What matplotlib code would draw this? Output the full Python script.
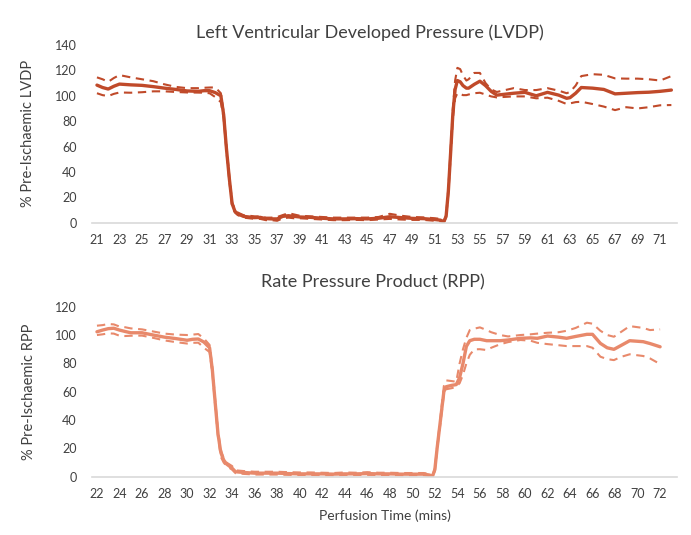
import matplotlib
matplotlib.use("Agg")
import matplotlib.pyplot as plt

plt.rcParams['font.family'] = ['Lato', 'DejaVu Sans']

# ---- LVDP (top) ----
t_lvdp = [21, 21.5, 22, 22.5, 23, 24, 25, 26, 27, 28, 29, 30, 30.5, 31, 31.5, 32,
          32.25, 32.5, 32.75, 33, 33.25, 33.5, 34, 34.5, 35, 35.5, 36, 36.5, 37, 37.5,
          38, 38.5, 39, 40, 41, 42, 43, 44, 45, 46, 47, 48, 49, 50, 51, 51.5, 51.8,
          52, 52.2, 52.4, 52.6, 52.8, 53, 53.25, 53.5, 53.8, 54, 54.5, 55, 55.5, 56,
          56.5, 57, 58, 59, 60, 61, 62, 62.7, 63, 63.5, 64, 65, 66, 67, 68, 69, 70, 71, 72]
lvdp_mean = [108.4, 106.5, 105.3, 107.5, 109.2, 108.6, 108.2, 107.2, 106, 105, 103.8, 103.5, 104, 104, 102.5, 100,
             85, 58, 35, 15, 9, 7, 5, 4.5, 4, 4.2, 3.2, 3, 3, 5,
             5.5, 5, 4.5, 4.2, 3.5, 3, 3, 3.2, 3, 3.5, 4.7, 4, 3.4, 3.2, 2.5, 2, 0.8,
             5, 25, 55, 86, 105, 112, 111, 108, 106, 106, 109, 111.5, 108, 103.5,
             100.5, 101, 102, 102.7, 100, 102.7, 100.5, 98, 98.5, 102, 106.5, 106, 105, 101.5, 102, 102.5, 102.8, 103.5, 104.5]
lvdp_upper = [114.5, 113, 111, 114, 116.3, 114.5, 113, 111.5, 109, 107, 106, 106, 106.3, 106.5, 106.6, 102,
              87, 60, 37, 16, 10.5, 8, 6, 5.5, 5, 5, 4, 4, 4.5, 6,
              7.5, 6.5, 5.5, 5, 4.5, 4, 4, 4, 4, 4.5, 7, 5.5, 4.5, 4.2, 3.5, 3, 1.2,
              6, 27, 58, 90, 112, 122, 121, 116, 112, 113, 118, 118, 110, 105,
              103, 104, 106, 104.5, 104.5, 106, 104, 102, 103, 108, 115.5, 117, 116.5, 113.7, 113.5, 113.5, 113, 112, 115.5]
lvdp_lower = [102, 100.5, 99.8, 101.5, 102.6, 102.4, 102.8, 103.5, 103.5, 103, 102.6, 102.5, 102.4, 102, 99, 95,
              82, 56, 33, 13, 8, 6, 4, 3.5, 3, 3, 2, 2, 1.5, 3.5,
              4, 3.5, 3.5, 3, 2.5, 2, 2, 2.2, 2, 2.5, 3, 2.5, 2.2, 2.2, 1.5, 1, 0.4,
              4, 23, 52, 82, 98, 102, 101.5, 100.5, 100.5, 101, 102, 102.4, 101, 99.5,
              98.7, 99, 99.5, 99.5, 98, 98.5, 96, 93.5, 94, 95, 95.3, 93.5, 91.5, 88.7, 91, 90, 91, 92.5, 92.7]

# ---- RPP (bottom) ----
t_rpp = [22, 22.5, 23, 23.5, 24, 24.5, 25, 26, 27, 28, 29, 30, 30.5, 31, 31.5, 32,
         32.25, 32.5, 32.75, 33, 33.25, 33.5, 34, 34.3, 35, 36, 37, 38, 39, 40, 41, 42,
         43, 44, 45, 46, 47, 48, 49, 50, 51, 51.5, 51.8, 52, 52.2, 52.5, 52.8, 53, 53.5,
         53.9, 54.2, 54.5, 54.8, 55.1, 55.5, 56, 56.6, 57, 57.8, 58.5, 59.6, 60.5, 61.1,
         62, 63, 63.7, 64.5, 65.5, 66, 66.7, 67.3, 67.9, 68.5, 69.3, 70.5, 71.1, 72]
rpp_mean = [102.3, 103.5, 104.5, 104.8, 103.5, 102.5, 101.6, 101.6, 100, 98.5, 97.5, 96.3, 97, 97.2, 95, 91,
            75, 52, 30, 17, 11.8, 9, 6, 3.5, 3, 2.5, 2.5, 2.5, 2.2, 2, 2, 2,
            1.8, 2, 2, 2.2, 2, 2, 1.8, 1.8, 1.8, 1.2, 0.5, 5, 20, 40, 60, 63.5, 64.5,
            65, 70, 80, 92, 96, 97, 97, 96, 96, 96, 96.5, 97.7, 98, 97.7,
            99.3, 98.5, 97.7, 99, 100.5, 100.5, 94.1, 91, 89.9, 92.5, 96, 95.3, 94, 91.7]
rpp_upper = [106.6, 107, 107.8, 107.5, 106, 105.5, 104.7, 104, 102.5, 101, 100.3, 100, 100.3, 100.7, 97.5, 93,
             77, 54, 32, 19, 13, 10, 7.5, 4.5, 4, 3.5, 3.5, 3.5, 3.2, 3, 3, 2.8,
             2.6, 3, 2.8, 3.2, 2.8, 2.8, 2.6, 2.6, 2.6, 2, 0.8, 6, 21, 42, 64, 68, 67.5,
             67, 80, 90, 98, 103.5, 104.5, 105.4, 103.5, 102, 100, 99, 100, 100.5, 101,
             101.6, 102, 103, 105, 108.7, 108, 103, 100, 98.8, 102, 106.3, 105, 103.5, 104]
rpp_lower = [100, 100.5, 101.2, 101, 99.5, 99.3, 99.5, 99.6, 98, 96.2, 95, 94, 94.5, 94.6, 91, 88,
             73, 50, 28, 14, 10, 7.5, 5, 2.5, 2, 1.5, 1.5, 1.5, 1.3, 1.2, 1.2, 1,
             1, 1.2, 1.2, 1.3, 1.2, 1.2, 1, 1, 1, 0.5, 0.2, 4, 19, 38, 58, 61.7, 62.5,
             63.5, 66, 72, 80, 86, 89.9, 90, 89.4, 91, 93.5, 95, 96.5, 96, 94.5,
             93.6, 92.8, 92.2, 92.2, 92.2, 91, 84.7, 83, 82.3, 84.5, 86.4, 85.2, 83.5, 79.5]

top_color = '#C04A2A'
bot_color = '#E8896B'

fig = plt.figure(figsize=(6.91, 5.35), dpi=100)
ax1 = fig.add_axes([92/691, 1 - 222.7/535, 585/691, (222.7 - 45)/535])
ax2 = fig.add_axes([92/691, 1 - 476.7/535, 585/691, (476.7 - 306.7)/535])


def style(ax, xlo, xhi, xticks, ymax, ylabel):
    for s in ['top', 'right', 'left']:
        ax.spines[s].set_visible(False)
    ax.spines['bottom'].set_color('#D9D9D9')
    ax.spines['bottom'].set_linewidth(1.2)
    ax.set_xlim(xlo, xhi)
    ax.set_ylim(0, ymax)
    ax.set_xticks(xticks)
    ax.set_yticks(range(0, ymax + 1, 20))
    ax.tick_params(axis='both', length=0, labelsize=9, colors='#404040', pad=8)
    ax.tick_params(axis='y', pad=11)
    ax.set_ylabel(ylabel, fontsize=10.5, color='#404040', labelpad=14)


dash = (0, (4, 2.7))
ax1.plot(t_lvdp, lvdp_upper, color=top_color, lw=1.5, ls=dash)
ax1.plot(t_lvdp, lvdp_lower, color=top_color, lw=1.5, ls=dash)
ax1.plot(t_lvdp, lvdp_mean, color=top_color, lw=2.4, solid_joinstyle='round', solid_capstyle='round')
style(ax1, 20.56, 72.5, list(range(21, 72, 2)), 140, '% Pre-Ischaemic LVDP')

ax2.plot(t_rpp, rpp_upper, color=bot_color, lw=1.5, ls=dash)
ax2.plot(t_rpp, rpp_lower, color=bot_color, lw=1.5, ls=dash)
ax2.plot(t_rpp, rpp_mean, color=bot_color, lw=2.4, solid_joinstyle='round', solid_capstyle='round')
style(ax2, 21.56, 73.5, list(range(22, 73, 2)), 120, '% Pre-Ischaemic RPP')
ax2.set_xlabel('Perfusion Time (mins)', fontsize=10, color='#404040', labelpad=7)

fig.text(0.535, 1 - 33/535, 'Left Ventricular Developed Pressure (LVDP)', ha='center', va='center',
         fontsize=13, color='#404040')
fig.text(0.54, 1 - 282/535, 'Rate Pressure Product (RPP)', ha='center', va='center',
         fontsize=13, color='#404040')

fig.savefig('out.png', dpi=100)
